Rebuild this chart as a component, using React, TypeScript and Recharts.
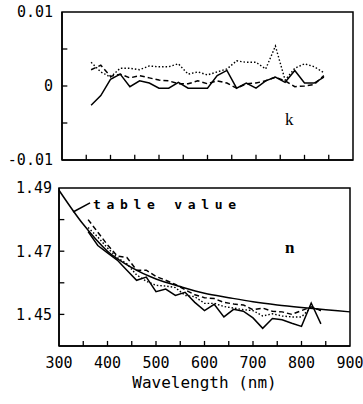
import { LineChart, Line, XAxis, YAxis, ReferenceArea, ReferenceLine } from 'recharts';

// wavelengths of the measured points (nm)
const wavelengths = [360, 380, 400, 420, 440, 460, 480, 500, 520, 540, 560, 580, 600, 620, 640, 660, 680, 700, 720, 740, 760, 780, 800, 820, 840];

// extinction coefficient k, three samples
const kSolid = [-0.0026, -0.0013, 0.0009, 0.0016, -0.0001, 0.0007, 0.0004, -0.0003, -0.0003, 0.0005, -0.0003, -0.0003, -0.0003, 0.0014, 0.0021, -0.0003, 0.0004, -0.0003, 0.0007, 0.0012, 0.0005, 0.0021, 0.0004, 0.0004, 0.0012];
const kDashed = [0.0022, 0.0028, 0.0013, 0.0016, 0.0011, 0.0014, 0.0011, 0.0008, 0.0007, 0.0003, 0.0003, 0.0007, 0.0003, 0.0007, 0.0004, -0.0003, 0.0003, 0.0004, 0.0007, 0.0012, 0.0007, -0.0001, 0.0, 0.0002, 0.0014];
const kDotted = [0.0032, 0.0019, 0.0012, 0.0024, 0.0024, 0.0022, 0.0027, 0.0026, 0.0026, 0.003, 0.0016, 0.0019, 0.0015, 0.0019, 0.0023, 0.0034, 0.0032, 0.0032, 0.0023, 0.0054, 0.0008, 0.0024, 0.003, 0.0026, 0.0018];

// refractive index n, three samples
const nSolid = [1.4762, 1.4718, 1.4695, 1.4672, 1.464, 1.4608, 1.4618, 1.4572, 1.458, 1.456, 1.457, 1.4538, 1.4512, 1.4532, 1.4492, 1.4516, 1.451, 1.4489, 1.4456, 1.4487, 1.4483, 1.4472, 1.4462, 1.4536, 1.447];
const nDashed = [1.48, 1.476, 1.472, 1.4685, 1.468, 1.464, 1.464, 1.462, 1.4608, 1.4595, 1.4578, 1.4562, 1.4553, 1.455, 1.4538, 1.4533, 1.453, 1.4515, 1.452, 1.451, 1.4508, 1.45, 1.4512, 1.4524, 1.4512];
const nDotted = [1.4775, 1.4745, 1.471, 1.468, 1.466, 1.4625, 1.4605, 1.4592, 1.459, 1.4585, 1.456, 1.4556, 1.4535, 1.4535, 1.4525, 1.452, 1.4515, 1.4512, 1.4495, 1.4502, 1.4495, 1.4492, 1.4492, 1.4523, 1.4512];

// handbook curve
const tableWavelengths = [300, 350, 400, 450, 500, 550, 600, 650, 700, 750, 800, 850, 900];
const tableValues = [1.4893, 1.4785, 1.47, 1.4648, 1.4612, 1.4588, 1.4567, 1.4553, 1.454, 1.453, 1.4522, 1.4515, 1.4508];

const xTicks = [300, 350, 400, 450, 500, 550, 600, 650, 700, 750, 800, 850, 900];
const kTicks = [-0.01, -0.005, 0, 0.005, 0.01];
const nTicks = [1.44, 1.45, 1.46, 1.47, 1.48, 1.49];

const kData = wavelengths.map((w, i) => ({ w, a: kSolid[i], b: kDashed[i], c: kDotted[i] }));
const nData = wavelengths.map((w, i) => ({ w, a: nSolid[i], b: nDashed[i], c: nDotted[i] }));
const tableData = tableWavelengths.map((w, i) => ({ w, t: tableValues[i] }));

const mono = '"DejaVu Sans Mono", monospace';
const tickFont = { fontFamily: mono, fontSize: 15, fill: '#000' };
const axisLine = { stroke: '#000', strokeWidth: 1.5 };

// short inward tick marks, placed through the chart scales
function innerTicks(yTicks: number[], yMin: number, yLen: number) {
  return [
    ...xTicks.slice(1, -1).map((x) => (
      <ReferenceLine key={'x' + x} segment={[{ x, y: yMin }, { x, y: yMin + yLen }]} stroke="#000" strokeWidth={1.3} />
    )),
    ...yTicks.slice(1, -1).map((y) => (
      <ReferenceLine key={'y' + y} segment={[{ x: 300, y }, { x: 311, y }]} stroke="#000" strokeWidth={1.3} />
    )),
  ];
}

export default function App() {
  return (
    <div style={{ position: 'absolute', left: 0, top: 0, width: 363, height: 404, background: '#fff' }}>
      <div style={{ position: 'absolute', left: 0, top: 0 }}>
        <LineChart width={363} height={175} data={kData} margin={{ top: 12, right: 10, bottom: 0, left: 0 }}>
          <XAxis type="number" dataKey="w" domain={[300, 900]} ticks={xTicks} interval={0} height={15} tick={false} tickLine={false} axisLine={axisLine} />
          <YAxis
            type="number"
            domain={[-0.01, 0.01]}
            ticks={kTicks}
            interval={0}
            width={62}
            tickSize={0}
            tickMargin={9}
            tick={tickFont}
            tickLine={false}
            axisLine={axisLine}
            tickFormatter={(v: number) => (Math.round(v * 1000) % 10 === 0 ? String(v) : '')}
          />
          <ReferenceArea x1={300} x2={900} y1={-0.01} y2={0.01} fill="none" stroke="#000" strokeWidth={1.5} fillOpacity={0} />
          {innerTicks(kTicks, -0.01, 0.0007)}
          <Line dataKey="a" type="linear" stroke="#000" strokeWidth={1.5} dot={false} isAnimationActive={false} />
          <Line dataKey="b" type="linear" stroke="#000" strokeWidth={1.5} strokeDasharray="5 3" dot={false} isAnimationActive={false} />
          <Line dataKey="c" type="linear" stroke="#000" strokeWidth={1.4} strokeDasharray="1.5 2" dot={false} isAnimationActive={false} />
        </LineChart>
      </div>
      <div style={{ position: 'absolute', left: 0, top: 175 }}>
        <LineChart width={363} height={229} data={nData} margin={{ top: 13, right: 13, bottom: 0, left: 0 }}>
          <XAxis
            type="number"
            dataKey="w"
            domain={[300, 900]}
            ticks={xTicks}
            interval={0}
            height={58}
            tickSize={0}
            tickMargin={11}
            tick={tickFont}
            tickLine={false}
            axisLine={axisLine}
            tickFormatter={(v: number) => (v % 100 === 0 ? String(v) : '')}
            label={{ value: 'Wavelength (nm)', position: 'insideBottom', offset: 16, style: { fontFamily: mono, fontSize: 16, fill: '#000' } }}
          />
          <YAxis
            type="number"
            domain={[1.44, 1.49]}
            ticks={nTicks}
            interval={0}
            width={59}
            tickSize={0}
            tickMargin={7}
            tick={tickFont}
            tickLine={false}
            axisLine={axisLine}
            tickFormatter={(v: number) => (Math.round(v * 100) % 2 === 1 ? v.toFixed(2) : '')}
          />
          <ReferenceArea x1={300} x2={900} y1={1.44} y2={1.49} fill="none" stroke="#000" strokeWidth={1.5} fillOpacity={0} />
          {innerTicks(nTicks, 1.44, 0.0016)}
          <ReferenceLine segment={[{ x: 329, y: 1.4824 }, { x: 364, y: 1.4853 }]} stroke="#000" strokeWidth={1.5} />
          <Line data={tableData} dataKey="t" type="monotone" stroke="#000" strokeWidth={1.5} dot={false} isAnimationActive={false} />
          <Line dataKey="a" type="linear" stroke="#000" strokeWidth={1.5} dot={false} isAnimationActive={false} />
          <Line dataKey="b" type="linear" stroke="#000" strokeWidth={1.5} strokeDasharray="5 3" dot={false} isAnimationActive={false} />
          <Line dataKey="c" type="linear" stroke="#000" strokeWidth={1.4} strokeDasharray="1.5 2" dot={false} isAnimationActive={false} />
        </LineChart>
      </div>
      <div style={{ position: 'absolute', left: 93, top: 197, fontFamily: mono, fontSize: 13, fontWeight: 'bold', letterSpacing: 5.7, lineHeight: '16px', whiteSpace: 'nowrap' }}>
        table value
      </div>
      <div style={{ position: 'absolute', left: 285, top: 110, fontFamily: '"Liberation Serif", serif', fontSize: 17, lineHeight: '20px' }}>k</div>
      <div style={{ position: 'absolute', left: 285, top: 238, fontFamily: '"Liberation Serif", serif', fontSize: 17, fontWeight: 'bold', lineHeight: '20px' }}>n</div>
    </div>
  );
}
